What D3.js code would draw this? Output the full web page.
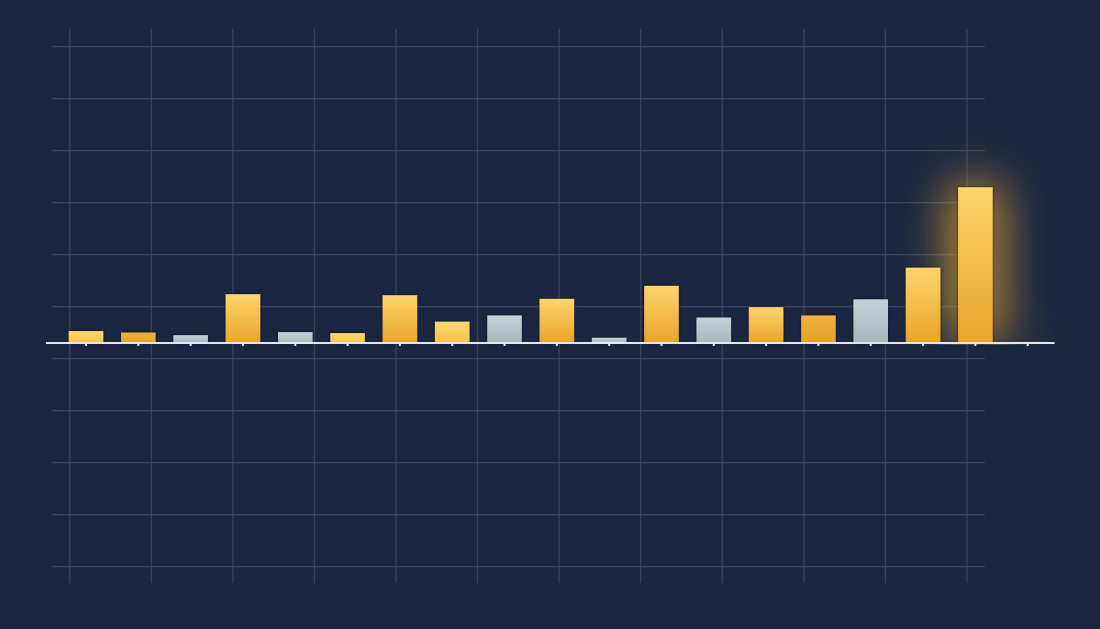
<!DOCTYPE html>
<html>
<head>
<meta charset="utf-8">
<script src="https://cdn.jsdelivr.net/npm/d3@7"></script>
<style>
  html, body { margin: 0; padding: 0; background: #1b2641; }
  svg { display: block; }
</style>
</head>
<body>
<svg id="chart" width="1100" height="629"></svg>
<script>
// ---- data ----
const categories = ["1","2","3","4","5","6","7","8","9","10","11","12","13","14","15","16","17","18","19"];
const values     = [2.3, 2.0, 1.5, 9.4, 2.1, 1.9, 9.2, 4.1, 5.3, 8.5, 1.0, 11.0, 4.9, 6.9, 5.3, 8.4, 14.5, 30.0, 0.2];
const kinds      = ["light","amber","gray","gold","gray","light","gold","light","gray","gold","gray","gold","gray","gold","amber","gray","gold","gold","gold"];
const highlight  = ["18", "19"];
const gridCols   = d3.range(12);
const gridRows   = d3.range(11);

// ---- layout ----
const W = 1100, H = 629;
const svg = d3.select("#chart");
svg.append("rect").attr("width", W).attr("height", H).attr("fill", "#1b2641");

const defs = svg.append("defs");
function grad(id, top, bottom) {
  const g = defs.append("linearGradient").attr("id", id).attr("x1", 0).attr("y1", 0).attr("x2", 0).attr("y2", 1);
  g.append("stop").attr("offset", "0%").attr("stop-color", top);
  g.append("stop").attr("offset", "100%").attr("stop-color", bottom);
}
grad("g-gold", "#fdd56c", "#e9a42a");
grad("g-light", "#fdd876", "#f6c14a");
grad("g-amber", "#eeb23f", "#e29f2a");
grad("g-gray", "#c7d0d7", "#a9b4bd");

const glow = defs.append("filter").attr("id", "glow")
  .attr("filterUnits", "userSpaceOnUse")
  .attr("x", 0).attr("y", 0).attr("width", W).attr("height", H);
glow.append("feGaussianBlur").attr("stdDeviation", 24);

defs.append("clipPath").attr("id", "aboveAxis")
  .append("rect").attr("x", 0).attr("y", 0).attr("width", W).attr("height", 345);

const shadow = defs.append("filter").attr("id", "shadow")
  .attr("filterUnits", "userSpaceOnUse")
  .attr("x", 0).attr("y", 0).attr("width", W).attr("height", H);
shadow.append("feDropShadow").attr("dx", 0).attr("dy", 0).attr("stdDeviation", 1.5)
  .attr("flood-color", "#0a0f1c").attr("flood-opacity", 0.8);

// grid (decorative background lattice)
const gx = d3.scaleLinear().domain([0, 11]).range([69.7, 967]);
const gy = d3.scaleLinear().domain([0, 10]).range([46.7, 566.7]);
const grid = svg.append("g").attr("stroke", "#374563").attr("stroke-width", 1.3);
grid.selectAll(".v").data(gridCols).join("line")
  .attr("x1", d => gx(d)).attr("x2", d => gx(d)).attr("y1", 29).attr("y2", 583);
grid.selectAll(".h").data(gridRows).join("line")
  .attr("x1", 52).attr("x2", 985).attr("y1", d => gy(d)).attr("y2", d => gy(d));

// scales
const x = d3.scaleBand().domain(categories).range([59.85, 1053.85]).paddingInner(0.34).paddingOuter(0.17);
const y = d3.scaleLinear().domain([0, 30]).range([343, 187.3]);

const data = categories.map((c, i) => ({ c, v: values[i], k: kinds[i] }));

// glow
svg.append("g").attr("clip-path", "url(#aboveAxis)")
  .selectAll("rect").data(data.filter(d => highlight.includes(d.c))).join("rect")
  .attr("x", d => x(d.c) - 10)
  .attr("width", x.bandwidth() + 20)
  .attr("y", d => y(d.v) - 4)
  .attr("height", d => Math.max(6, y(0) - y(d.v) + 4))
  .attr("fill", "#e9a630")
  .attr("opacity", d => d.v > 5 ? 0.8 : 0.3)
  .attr("filter", "url(#glow)");

// bars
svg.append("g").selectAll("rect").data(data).join("rect")
  .attr("x", d => x(d.c))
  .attr("width", x.bandwidth())
  .attr("y", d => y(d.v))
  .attr("height", d => y(0) - y(d.v))
  .attr("fill", d => `url(#g-${d.k})`)
  .attr("filter", "url(#shadow)");

// axis
const axis = d3.axisBottom(x).tickSize(3).tickFormat("");
const ax = svg.append("g").attr("transform", `translate(0,${y(0)})`).call(axis);
ax.select(".domain").remove();
ax.selectAll(".tick line").attr("stroke", "#e6e9ef").attr("stroke-width", 2);
svg.append("line").attr("x1", 46).attr("x2", 1054.5).attr("y1", y(0)).attr("y2", y(0))
  .attr("stroke", "#e3e7ee").attr("stroke-width", 2);
</script>
</body>
</html>
